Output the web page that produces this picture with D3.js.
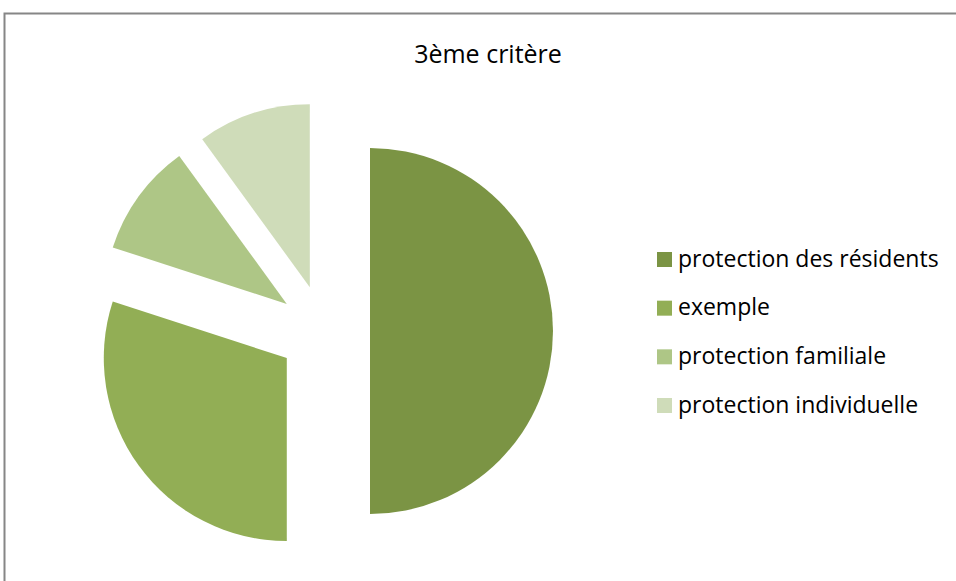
<!DOCTYPE html>
<html>
<head>
<meta charset="utf-8">
<script src="https://cdn.jsdelivr.net/npm/d3@7"></script>
<style>
  html, body { margin: 0; padding: 0; background: #fff; }
  svg { display: block; }
</style>
</head>
<body>
<svg id="chart" width="956" height="581"></svg>
<script>
// Chart content
const title = "3ème critère";
const categories = ["protection des résidents", "exemple", "protection familiale", "protection individuelle"];
const values = [50, 30, 10, 10];
const colors = ["#7b9444", "#92ae55", "#aec686", "#cfdcb9"];

const W = 956, H = 581;
const svg = d3.select("#chart");

// chart area frame (extends past right and bottom edges of the view)
svg.append("rect")
  .attr("x", 4.5).attr("y", 13.5)
  .attr("width", W + 10).attr("height", H + 10)
  .attr("fill", "#fff")
  .attr("stroke", "#868686").attr("stroke-width", 2);

svg.append("text")
  .attr("x", 488).attr("y", 63)
  .attr("text-anchor", "middle")
  .attr("font-family", "'Open Sans', Lato, sans-serif")
  .attr("font-size", 25)
  .attr("fill", "#000")
  .text(title);

// exploded pie
const cx = 324, cy = 331, radius = 183, explode = 46;
const pie = d3.pie().sort(null).value(d => d.value);
const arc = d3.arc().innerRadius(0).outerRadius(radius);
const data = categories.map((c, i) => ({ name: c, value: values[i], color: colors[i] }));

const g = svg.append("g").attr("transform", `translate(${cx},${cy})`);
g.selectAll("path")
  .data(pie(data))
  .join("path")
  .attr("d", arc)
  .attr("fill", d => d.data.color)
  .attr("transform", d => {
    const mid = (d.startAngle + d.endAngle) / 2;
    return `translate(${explode * Math.sin(mid)},${-explode * Math.cos(mid)})`;
  });

// legend
const legendY = d3.scalePoint().domain(categories).range([259.5, 405.5]);
const lg = svg.append("g");
const item = lg.selectAll("g").data(data).join("g")
  .attr("transform", d => `translate(0,${legendY(d.name)})`);
item.append("rect")
  .attr("x", 657).attr("y", -7.5).attr("width", 15).attr("height", 15)
  .attr("fill", d => d.color);
item.append("text")
  .attr("x", 678).attr("y", 7)
  .attr("font-family", "'Open Sans', Lato, sans-serif")
  .attr("font-size", 23)
  .attr("fill", "#000")
  .text(d => d.name);
</script>
</body>
</html>
